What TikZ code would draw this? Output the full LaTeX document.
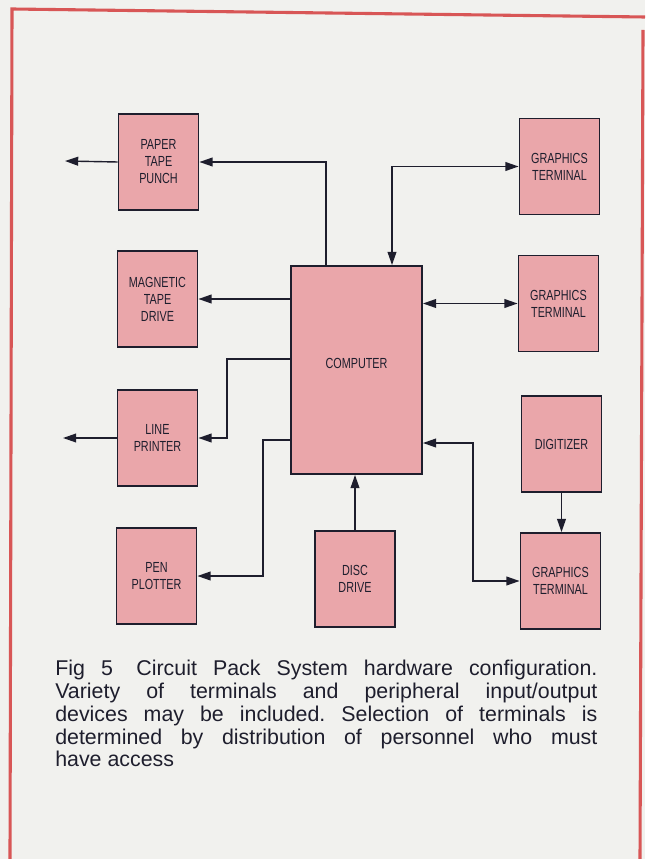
\documentclass[tikz,border=0pt]{standalone}
\usepackage{fontspec}
\newfontfamily\boxfont[FakeStretch=0.74]{Liberation Sans}
\newfontfamily\capfont{Liberation Sans}
\usetikzlibrary{arrows.meta,calc}
\definecolor{paper}{RGB}{241,241,238}
\definecolor{boxpink}{RGB}{234,166,170}
\definecolor{inkdark}{RGB}{30,30,45}
\definecolor{framered}{RGB}{216,86,86}
\frenchspacing

\begin{document}
\begin{tikzpicture}[
  x=0.025cm, y=-0.025cm,
  unit/.style ={draw=inkdark, line width=1.3pt, fill=boxpink, text=inkdark,
                minimum width=2cm, minimum height=2.4cm, inner sep=0pt,
                align=center, font=\boxfont\fontsize{10.4}{12.1}\selectfont},
  arr/.style  ={->, line width=1pt, draw=inkdark},
  dbl/.style  ={<->, line width=1pt, draw=inkdark},
  >={Triangle[length=0.33cm, width=0.22cm]}
]

\useasboundingbox (0,0) rectangle (645,859);
\fill[paper] (0,0) rectangle (645,859);

% Frame
\draw[framered, line width=2.2pt] (645,17) -- (12,9) -- (10,859);
\draw[framered, line width=2.2pt] (643,30) -- (640,859);

% Peripherals, left
\node[unit] (ptp) at (158.5,162) {PAPER\\TAPE\\PUNCH};
\node[unit] (mtd) at (157.5,299) {MAGNETIC\\TAPE\\DRIVE};
\node[unit] (lp)  at (157.5,438) {LINE\\PRINTER};
\node[unit] (pp)  at (156.5,576) {PEN\\PLOTTER};

% Centre
\node[unit, minimum width=3.275cm, minimum height=5.2cm] (comp)
     at (356.5,370) {\raisebox{0.35cm}{COMPUTER}};
\node[unit] (dd)  at (355,579) {DISC\\DRIVE};

% Terminals, right
\node[unit] (gt1) at (559.5,166.5) {GRAPHICS\\TERMINAL};
\node[unit] (gt2) at (558.5,303.5) {GRAPHICS\\TERMINAL};
\node[unit] (dig) at (561.5,444)   {DIGITIZER};
\node[unit] (gt3) at (560.5,581)   {GRAPHICS\\TERMINAL};

\coordinate (ptpout) at (65,161);
\coordinate (lpout)  at (63,438);

% Outputs
\draw[arr] ($(comp.north)+(-30.5,0)$) |- (ptp.east);
\draw[arr] (ptp.west) -- (ptpout);
\draw[arr] (comp.west |- mtd.east) -- (mtd.east);
\draw[arr] ($(comp.west)+(0,-11)$) -- ++(-63,0) |- (lp.east);
\draw[arr] (lp.west) -- (lpout);
\draw[arr] ($(comp.west)+(0,70)$) -- ++(-27,0) |- (pp.east);
\draw[arr] (dd.north) -- (dd.north |- comp.south);

% Two-way links to terminals
\draw[dbl] ($(comp.north)+(35.5,0)$) |- (gt1.west);
\draw[dbl] (comp.east |- gt2.west) -- (gt2.west);
\draw[dbl] ($(comp.east)+(0,73)$) -- ++(50,0) |- (gt3.west);
\draw[arr] (dig.south) -- (dig.south |- gt3.north);

% Caption
\node[anchor=north west, inner sep=0pt, text width=13.55cm, align=justify,
      text=inkdark, font=\capfont\fontsize{15.2}{16.2}\selectfont] (cap)
     at (55,660)
     {Fig 5\hspace{1.1em}Circuit Pack System hardware configuration.\linebreak
      Variety of terminals and peripheral input/output\linebreak
      devices may be included. Selection of terminals is\linebreak
      determined by distribution of personnel who must\linebreak
      have access\par};

\end{tikzpicture}
\end{document}
